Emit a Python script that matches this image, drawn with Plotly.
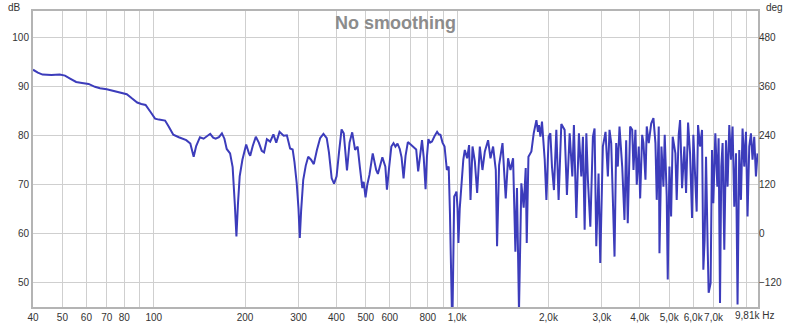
import plotly.graph_objects as go

# Frequency response (Hz, dB)
freq_hz = [
    40, 41.5, 43, 46, 49, 51, 53, 55.5, 58, 61, 64, 66.5, 70, 74, 78.5, 81.5, 84.5, 88.2, 91, 94,
    97.5, 101, 104, 109, 112, 116, 121, 128, 132, 135.4, 138, 142, 146, 150, 153.5, 157, 160, 164,
    167.8, 171, 174, 178.5, 182, 185, 187.3, 189.5, 192, 196, 201.7, 206, 208, 212, 217, 222, 227,
    231, 236, 242, 248, 253.4, 259.8, 268, 274.7, 281.5, 287, 291, 296, 300, 303, 306, 311, 317,
    323, 330, 337, 345, 353.5, 362.5, 371.7, 378, 386, 393, 400.6, 408, 416, 423, 428, 433.5, 442,
    451, 461, 470, 478, 487, 492, 499, 506, 514, 527, 534, 541, 548, 557, 567, 580, 587, 597, 607,
    617, 626, 636, 647, 656, 666, 676, 688, 700, 711, 722, 733, 744, 755, 766, 776, 787, 795, 804,
    815, 826, 842, 859, 870, 881, 895, 909, 925, 938, 947, 954, 961, 966, 972, 978, 988, 995, 1003,
    1010, 1020, 1035, 1048, 1060, 1079, 1095, 1107, 1124, 1144, 1164, 1188, 1212, 1234, 1265, 1288,
    1314, 1341, 1354, 1375, 1411, 1446, 1472, 1499, 1529, 1556, 1575, 1599, 1628, 1657, 1683, 1696,
    1718, 1757, 1788, 1825, 1847, 1861, 1881, 1904, 1944, 1969, 2003, 2029, 2054, 2085, 2123, 2160,
    2205, 2261, 2301, 2349, 2397, 2426, 2471, 2520, 2566, 2598, 2632, 2666, 2698, 2748, 2802, 2838,
    2875, 2925, 2963, 3022, 3084, 3139, 3179, 3220, 3302, 3344, 3385, 3429, 3500, 3561, 3607, 3651,
    3718, 3776, 3813, 3870, 3909, 3969, 4011, 4073, 4113, 4176, 4217, 4282, 4361, 4436, 4504, 4549,
    4619, 4644, 4715, 4786, 4833, 4907, 4945, 5009, 5073, 5135, 5241, 5293, 5374, 5431, 5513, 5610,
    5683, 5770, 5858, 5947, 6006, 6098, 6159, 6224, 6319, 6415, 6479, 6543, 6613, 6694, 6745, 6847,
    6920, 6989, 7096, 7205, 7275, 7353, 7426, 7499, 7596, 7695, 7788, 7889, 7991, 8089, 8194, 8300,
    8400, 8509, 8619, 8725, 8838, 8953, 9062, 9180, 9299, 9412, 9534, 9658, 9774,
]
spl_db = [
    93.4, 92.8, 92.4, 92.3, 92.4, 92.2, 91.6, 90.9, 90.7, 90.5, 89.9, 89.6, 89.4, 89.0, 88.6, 88.4, 87.6, 86.7, 86.4, 86.2,
    84.8, 83.4, 83.2, 83.0, 81.8, 80.1, 79.6, 79.0, 78.3, 75.6, 77.8, 79.6, 79.3, 79.8, 80.3, 79.5, 79.3, 79.6,
    80.4, 79.3, 77.2, 76.3, 73.5, 66.0, 59.3, 66.0, 71.6, 75.0, 78.1, 76.3, 75.8, 77.8, 79.7, 78.5, 76.8,
    76.5, 79.2, 78.7, 80.2, 78.5, 80.7, 79.9, 80.0, 77.3, 77.1, 74.5, 70.2, 65.0, 59.0, 64.5, 70.9, 73.8,
    75.6, 75.0, 74.1, 77.0, 79.4, 80.3, 79.4, 76.5, 71.2, 70.1, 71.6, 76.5, 81.2, 80.4, 77.0, 72.8, 78.5,
    80.6, 77.0, 77.7, 73.5, 69.2, 70.5, 67.3, 70.0, 71.9, 76.3, 74.5, 72.9, 72.1, 73.5, 75.5, 73.6, 68.9, 73.5, 77.7,
    78.4, 77.7, 78.3, 77.2, 75.5, 71.2, 75.8, 78.6, 78.2, 77.8, 77.6, 77.1, 72.6, 76.5, 79.0, 75.5, 69.0, 75.5, 79.2,
    78.5, 78.7, 79.8, 80.7, 80.2, 80.1, 78.5, 77.7, 72.9, 73.6, 64.0, 51.8, 44.0, 44.0, 58.0, 67.5, 68.0, 68.5, 65.0,
    58.0, 65.0, 70.9, 75.0, 77.0, 75.3, 78.0, 66.8, 77.7, 74.6, 68.2, 77.7, 72.9, 76.7, 79.0, 75.3,
    77.7, 72.9, 57.3, 73.9, 78.4, 67.1, 75.3, 72.9, 75.3, 56.2, 69.2, 44.0, 70.2, 65.2, 73.3, 58.0,
    75.6, 76.7, 80.4, 83.1, 80.7, 82.1, 79.7, 82.8, 75.0, 66.8, 79.7, 80.4, 73.6, 68.8, 81.1, 66.8,
    82.3, 81.1, 67.8, 80.4, 71.6, 82.1, 63.1, 80.4, 71.6, 79.7, 60.7, 80.4, 70.9, 61.3, 79.7, 81.4,
    57.3, 72.2, 53.9, 77.7, 80.7, 71.6, 81.1, 78.4, 55.2, 78.4, 73.6, 81.8, 73.6, 62.7, 79.0, 62.0,
    81.8, 81.1, 72.9, 81.1, 69.9, 77.7, 67.1, 80.1, 78.4, 70.9, 81.8, 78.4, 82.4, 83.5, 78.4, 66.8,
    81.8, 55.9, 77.7, 69.5, 80.1, 67.5, 50.5, 73.6, 63.4, 79.7, 76.3, 66.8, 80.1, 83.1, 69.2, 77.7,
    68.2, 82.6, 76.3, 63.1, 80.1, 70.9, 64.4, 82.1, 77.7, 81.1, 52.5, 58.6, 75.6, 57.3, 47.8, 49.8,
    77.0, 66.1, 80.4, 69.5, 79.4, 45.7, 73.6, 78.4, 56.6, 79.0, 69.5, 82.1, 75.0, 81.8, 65.4, 76.3,
    45.4, 77.0, 66.8, 81.4, 73.6, 80.7, 63.4, 77.7, 80.4, 75.0, 79.7, 71.6, 76.3,
]

# Axis ticks
x_grid = [40, 50, 60, 70, 80, 90, 100, 200, 300, 400, 500, 600, 700, 800, 900,
          1000, 2000, 3000, 4000, 5000, 6000, 7000, 8000, 9000, 9810]
x_labels = ["40", "50", "60", "70", "80", "", "100", "200", "300", "400", "500", "600", "", "800", "",
            "1,0k", "2,0k", "3,0k", "4,0k", "5,0k", "6,0k", "7,0k", "", "", ""]
end_label = "9,81k Hz"
db_ticks = [50, 60, 70, 80, 90, 100]
deg_ticks = [-120, 0, 120, 240, 360, 480]

db_range = [44.9, 105.4]
deg_range = [(db_range[0] - 60) * 12, (db_range[1] - 60) * 12]

fig = go.Figure()
fig.add_trace(go.Scatter(x=freq_hz, y=spl_db, mode="lines",
                         line=dict(color="#3c3cbb", width=2), showlegend=False,
                         hoverinfo="skip"))
fig.add_trace(go.Scatter(x=[100], y=[None], yaxis="y2", mode="lines", showlegend=False,
                         hoverinfo="skip"))

FONT = "Liberation Sans, Arial, sans-serif"
tick_font = dict(family=FONT, size=10, color="#333333")

fig.update_layout(
    width=800, height=324,
    margin=dict(l=33, r=42, t=11, b=17, autoexpand=False),
    paper_bgcolor="white", plot_bgcolor="white",
    xaxis=dict(type="log", range=[1.60206, 3.99167], automargin=False,
               tickmode="array", tickvals=x_grid, ticktext=x_labels, tickangle=0,
               showgrid=True, gridcolor="#cfcfcf", gridwidth=1,
               showline=True, linecolor="#b4b4b4", linewidth=2, mirror=True,
               ticks="", tickfont=tick_font, zeroline=False),
    yaxis=dict(range=db_range, tickmode="array", tickvals=db_ticks, automargin=False,
               showgrid=True, gridcolor="#cfcfcf", gridwidth=1,
               showline=True, linecolor="#b4b4b4", linewidth=2, mirror=True,
               ticks="", tickfont=tick_font, zeroline=False),
    yaxis2=dict(range=deg_range, overlaying="y", side="right", automargin=False,
                tickmode="array", tickvals=deg_ticks,
                showgrid=False, ticks="", tickfont=tick_font, zeroline=False,
                showline=False),
)
fig.add_annotation(text="<b>No smoothing</b>", xref="paper", yref="paper", x=0.5, y=1.0,
                   xanchor="center", yanchor="top", yshift=0, showarrow=False,
                   font=dict(family=FONT, size=18, color="#8c8c8c"))
fig.add_annotation(text="dB", xref="paper", yref="paper", x=0.0, y=1.0,
                   xanchor="right", yanchor="top", xshift=-10, yshift=11, showarrow=False,
                   font=dict(family=FONT, size=10, color="#333333"))
fig.add_annotation(text="deg", xref="paper", yref="paper", x=1.0, y=1.0,
                   xanchor="left", yanchor="top", xshift=6, yshift=11, showarrow=False,
                   font=dict(family=FONT, size=10, color="#333333"))
fig.add_annotation(text=end_label, xref="paper", yref="paper", x=1.0, y=0.0,
                   xanchor="center", yanchor="top", xshift=-4, yshift=-1, showarrow=False,
                   font=tick_font)

# remove the default 8px page margin so the figure sits at the window's corner
fig.write_html("out.html", config={"displayModeBar": False},
               post_script="document.body.style.margin='0px';")
